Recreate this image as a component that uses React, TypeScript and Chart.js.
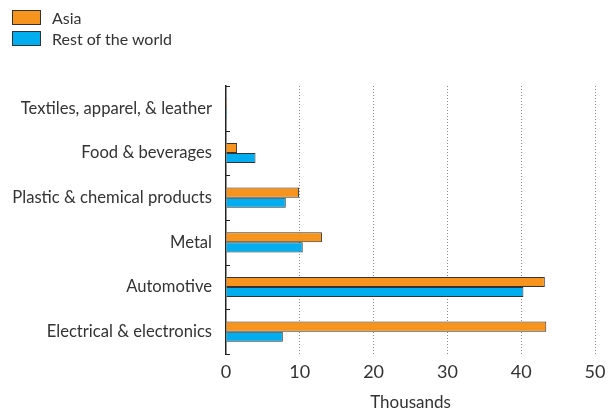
import React, { useEffect, useRef } from "react";
import { Chart, registerables } from "chart.js";

Chart.register(...registerables);

const categories = [
  "Textiles, apparel, & leather",
  "Food & beverages",
  "Plastic & chemical products",
  "Metal",
  "Automotive",
  "Electrical & electronics",
];
const asiaValues = [0.15, 1.5, 9.9, 13.0, 43.2, 43.4];
const restValues = [0.15, 4.0, 8.1, 10.4, 40.3, 7.7];
const xTicks = [0, 10, 20, 30, 40, 50];

const ORANGE = "#F7941D";
const BLUE = "#00AEEF";
const FONT = "Lato, 'Open Sans', sans-serif";

const catTicks = {
  id: "catTicks",
  afterDraw(chart: any) {
    const y = chart.scales.y;
    const ctx = chart.ctx;
    const n = categories.length;
    ctx.save();
    ctx.strokeStyle = "#222";
    ctx.lineWidth = 1;
    for (let i = 0; i <= n; i++) {
      const py = Math.round(y.top + ((y.bottom - y.top) * i) / n) + 0.5;
      ctx.beginPath();
      ctx.moveTo(y.right, py);
      ctx.lineTo(y.right + 4, py);
      ctx.stroke();
    }
    ctx.restore();
  },
};

export default function App() {
  const ref = useRef<HTMLCanvasElement>(null);
  useEffect(() => {
    if (!ref.current) return;
    const chart = new Chart(ref.current, {
      type: "bar",
      data: {
        labels: categories,
        datasets: [
          {
            label: "Asia",
            data: asiaValues,
            backgroundColor: ORANGE,
            borderColor: "#333",
            borderWidth: 1,
          },
          {
            label: "Rest of the world",
            data: restValues,
            backgroundColor: BLUE,
            borderColor: "#333",
            borderWidth: 1,
          },
        ],
      },
      options: {
        indexAxis: "y",
        animation: false,
        responsive: false,
        layout: { padding: { top: 86, right: 20, left: 0, bottom: 0 } },
        datasets: { bar: { categoryPercentage: 0.45, barPercentage: 1 } },
        plugins: { legend: { display: false }, tooltip: { enabled: false } },
        scales: {
          x: {
            min: 0,
            max: 50,
            afterBuildTicks: (s: any) => {
              s.ticks = xTicks.map((v) => ({ value: v }));
            },
            afterFit: (s: any) => {
              s.height = 59;
            },
            grid: {
              drawTicks: false,
              color: (c: any) => (c.tick && c.tick.value === 0 ? "rgba(0,0,0,0)" : "#8a8a8a"),
              lineWidth: 1,
            },
            border: { display: false, dash: [1, 2] },
            ticks: {
              color: "#333",
              font: { family: FONT, size: 18 },
              padding: 7,
            },
            title: {
              display: true,
              text: "Thousands",
              color: "#333",
              font: { family: FONT, size: 17 },
              padding: { top: 4, bottom: 0 },
            },
          },
          y: {
            afterFit: (s: any) => {
              s.width = 226;
            },
            grid: { display: false, drawTicks: false },
            border: { display: true, color: "#222", width: 1.5 },
            ticks: {
              color: "#333",
              font: { family: FONT, size: 16.6 },
              padding: 14,
            },
          },
        },
      },
      plugins: [catTicks],
    } as any);
    return () => chart.destroy();
  }, []);

  const legendItem = (color: string, text: string) => (
    <div style={{ display: "flex", alignItems: "center", height: 21 }}>
      <span
        style={{
          display: "inline-block",
          width: 27,
          height: 13,
          background: color,
          border: "1px solid #333",
          marginRight: 11,
        }}
      />
      <span style={{ fontFamily: FONT, fontSize: 16, color: "#333" }}>{text}</span>
    </div>
  );

  return (
    <div style={{ position: "absolute", left: 0, top: 0, width: 615, height: 413, background: "#fff" }}>
      <canvas ref={ref} width={615} height={413} style={{ display: "block" }} />
      <div style={{ position: "absolute", left: 12, top: 7 }}>
        {legendItem(ORANGE, "Asia")}
        {legendItem(BLUE, "Rest of the world")}
      </div>
    </div>
  );
}
